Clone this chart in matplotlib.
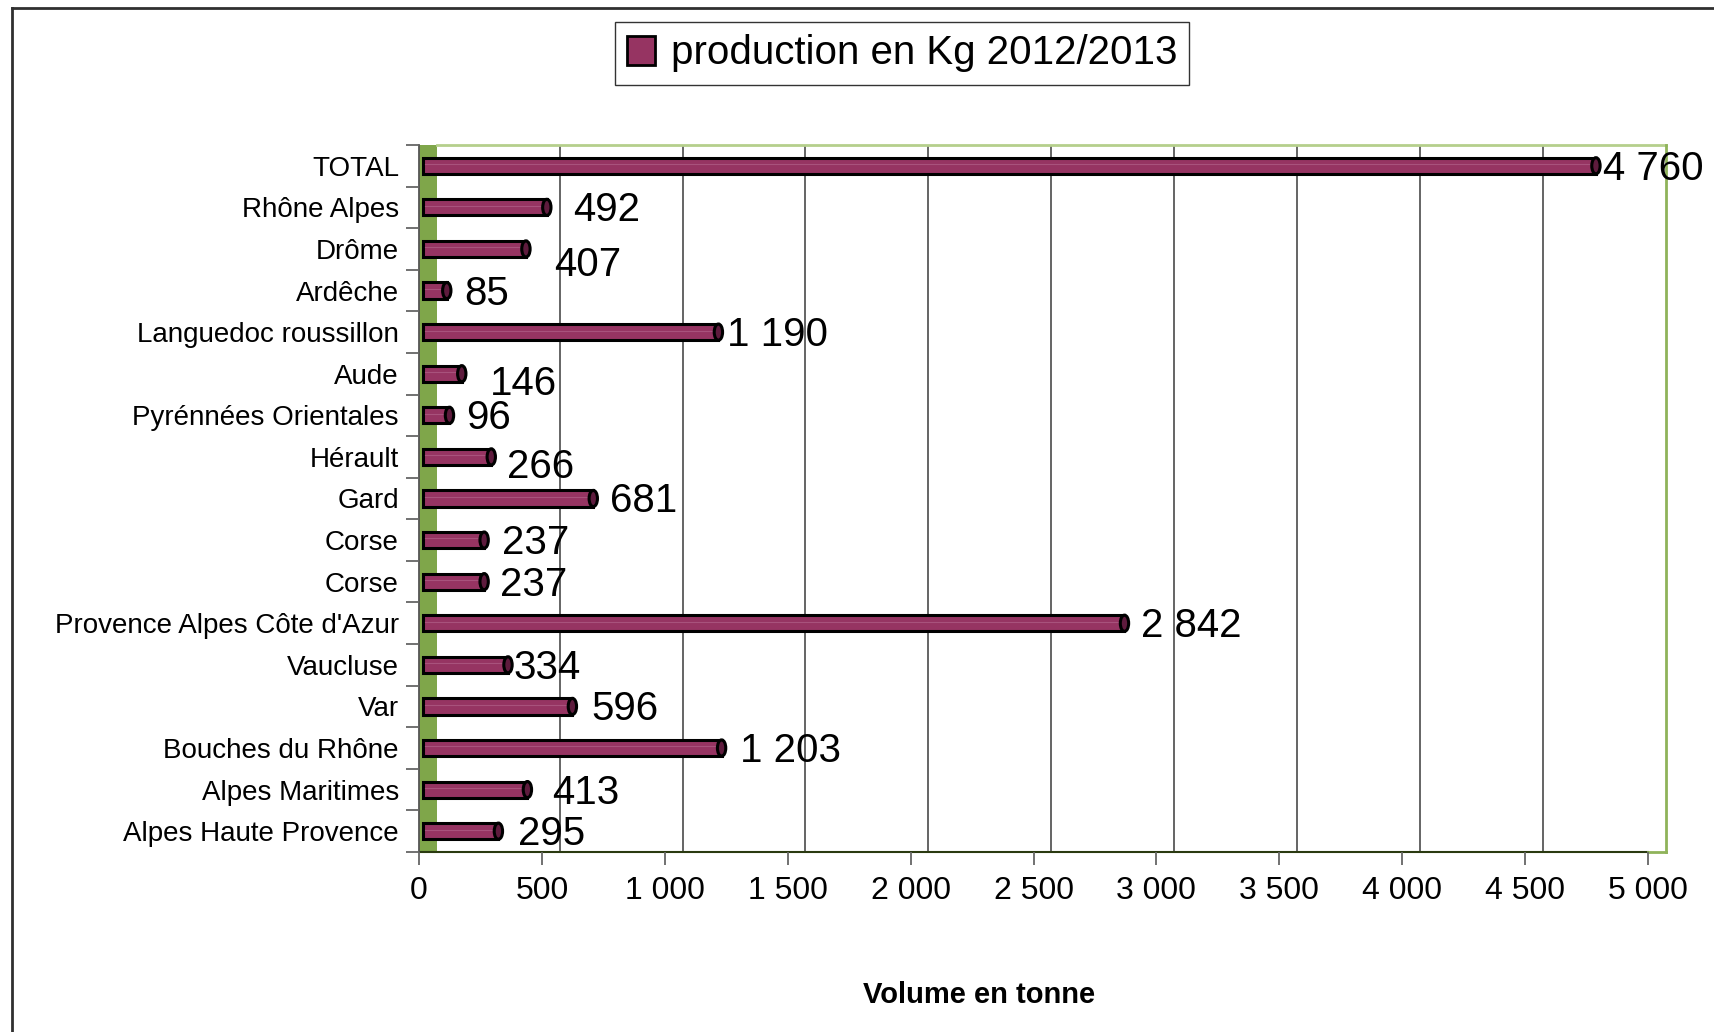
import matplotlib
matplotlib.use("Agg")
import matplotlib.pyplot as plt
from matplotlib.patches import Ellipse, Rectangle, Patch
from matplotlib.lines import Line2D
from matplotlib.ticker import FuncFormatter, FixedLocator
import numpy as np

plt.rcParams['font.family'] = ['Liberation Sans', 'DejaVu Sans']

categories = ["TOTAL", "Rhône Alpes", "Drôme", "Ardêche", "Languedoc roussillon",
              "Aude", "Pyrénnées Orientales", "Hérault", "Gard", "Corse", "Corse",
              "Provence Alpes Côte d'Azur", "Vaucluse", "Var", "Bouches du Rhône",
              "Alpes Maritimes", "Alpes Haute Provence"]
values = [4760, 492, 407, 85, 1190, 146, 96, 266, 681, 237, 237, 2842, 334, 596, 1203, 413, 295]
series_name = "production en Kg 2012/2013"
x_ticks = [0, 500, 1000, 1500, 2000, 2500, 3000, 3500, 4000, 4500, 5000]
x_label = "Volume en tonne"

# label placement offsets (pixels) – style only
lab_dx = [3, 22, 24, 13, 4, 24, 12, 12, 13, 14, 12, 12, 1, 15, 14, 21, 15]
lab_dy = [0, 0, 13, 0, 0, 7, 0, 7, 0, 0, 0, 0, 0, 0, 0, 0, 0]

W, H = 1715, 1032
fig = plt.figure(figsize=(W / 100, H / 100), dpi=100)

# outer border
fig.add_artist(Line2D([12 / W, 12 / W], [0, 1 - 8 / H], transform=fig.transFigure, color='#303030', lw=2))
fig.add_artist(Line2D([12 / W, 1], [1 - 8 / H, 1 - 8 / H], transform=fig.transFigure, color='#303030', lw=2))

left_px, right_px, top_px, bot_px = 419, 1666, 145, 852
ax = fig.add_axes([left_px / W, 1 - bot_px / H, (right_px - left_px) / W, (bot_px - top_px) / H])
xmax = 5073
depth = 72
ax.set_xlim(0, xmax)
n = len(categories)
ax.set_ylim(n - 0.5, -0.5)
for s in ax.spines.values():
    s.set_visible(False)

# back wall / gridlines
ax.add_patch(Rectangle((0, -0.5), depth, n, facecolor='#7fa64a', edgecolor='none', zorder=0))
for v in x_ticks[1:-1]:
    ax.axvline(v + depth, color='#3a3a3a', lw=1.1, zorder=0.5)
ax.plot([depth, xmax], [-0.5, -0.5], color='#b5cf8c', lw=2, zorder=0.6, clip_on=False)
ax.plot([xmax, xmax], [-0.5, n - 0.5], color='#8fb35a', lw=2, zorder=0.6, clip_on=False)
ax.plot([0, 5000], [n - 0.5, n - 0.5], color='#2a3a10', lw=1.5, zorder=0.6, clip_on=False)
ax.plot([5000, xmax], [n - 0.5, n - 0.5], color='#8fb35a', lw=2, zorder=0.6, clip_on=False)
ax.plot([0, 0], [-0.5, n - 0.5], color='#555555', lw=1.3, zorder=0.6, clip_on=False)

# bars
ypos = np.arange(n)
bh = 0.39
start = 16
endpad = 45
capw = 34
vals = np.array(values)
body_end = vals + endpad - capw / 2
ax.barh(ypos, body_end - start, left=start, height=bh, color='#963462',
        edgecolor='black', linewidth=2.2, zorder=2)
for y, e in zip(ypos, body_end):
    ax.plot([start + 8, e], [y - bh * 0.1, y - bh * 0.1], color='#a8527c', lw=0.8, zorder=2.1)
    ax.add_patch(Ellipse((e, y), capw, bh, facecolor='#5e1b3d', edgecolor='black', lw=2.2, zorder=3))

# data labels
for y, v, dx, dy in zip(ypos, vals, lab_dx, lab_dy):
    txt = f"{v:,}".replace(",", " ")
    ax.annotate(txt, xy=(v + endpad, y), xytext=(dx, -14 - dy), textcoords='offset pixels',
                ha='left', va='baseline', fontsize=29, color='black', zorder=5,
                annotation_clip=False)

# axes ticks
ax.xaxis.set_major_locator(FixedLocator(x_ticks))
ax.xaxis.set_major_formatter(FuncFormatter(lambda v, p: f"{int(v):,}".replace(",", " ")))
ax.tick_params(axis='x', direction='out', length=9.4, width=1.3, color='#666666',
               labelsize=23, pad=8)
ax.set_yticks(ypos)
ax.set_yticklabels(categories)
ax.set_yticks(np.arange(n + 1) - 0.5, minor=True)
ax.tick_params(axis='y', which='major', length=0, labelsize=20, pad=14.4)
ax.tick_params(axis='y', which='minor', direction='out', length=9.4, width=1.3, color='#666666')

fig.text(979 / W, 1 - 995 / H, x_label, ha='center', va='center', fontsize=21, fontweight='bold')

# legend
leg = fig.legend(handles=[Patch(facecolor='#963462', edgecolor='black', linewidth=2)],
                 labels=[series_name], loc='center', bbox_to_anchor=(902 / W, 1 - 53.5 / H),
                 fontsize=29, frameon=True, fancybox=False, handlelength=0.7, handleheight=0.7,
                 handletextpad=0.4, borderpad=0.3)
leg.get_frame().set_edgecolor('black')
leg.get_frame().set_linewidth(1)

fig.savefig("out.png", dpi=100)
